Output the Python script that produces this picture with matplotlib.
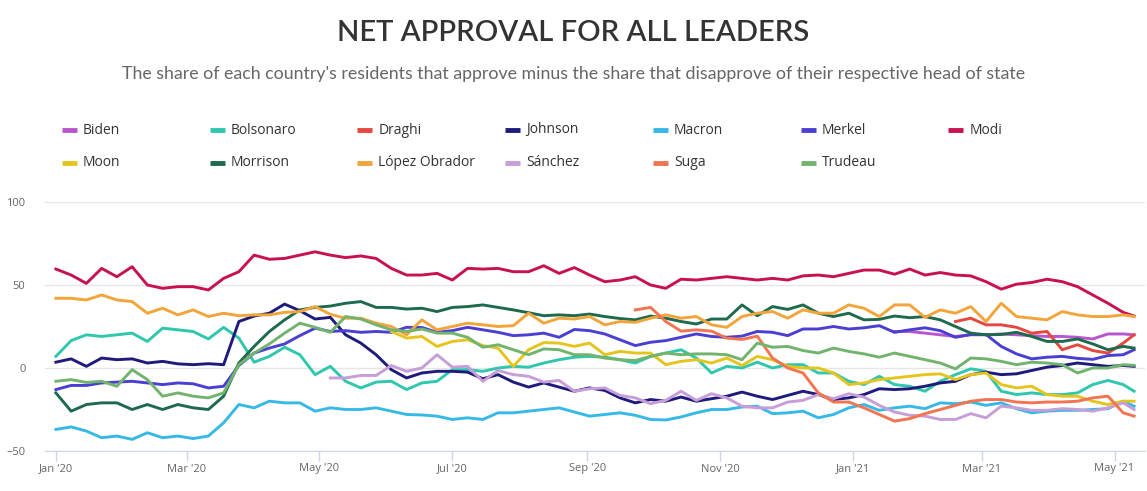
import numpy as np
import pandas as pd
import matplotlib
matplotlib.use("Agg")
import matplotlib.pyplot as plt
from matplotlib.lines import Line2D

# weekly sample dates, last point is the final day shown
dates = list(pd.date_range("2020-01-01", periods=71, freq="7D")) + [pd.Timestamp("2021-05-10")]

leaders = ["Biden", "Bolsonaro", "Draghi", "Johnson", "Macron", "Merkel", "Modi",
           "Moon", "Morrison", "López Obrador", "Sánchez", "Suga", "Trudeau"]

colors = ["#b956cf", "#2fc7ad", "#e5483f", "#1f1b7c", "#37b9e8", "#4a3fd2", "#c8124f",
          "#e6c41e", "#1e6a4c", "#f2a53a", "#c79ed8", "#f27450", "#72b46e"]

# first week index each series has data for
start_idx = {"Biden": 55, "Draghi": 59, "Moon": 22, "Sánchez": 18, "Suga": 38}

biden = [22, 22, 21, 20, 19, 20, 20, 20.5, 20, 19.5, 19, 19, 18.5, 17.5, 20.5, 20.5, 20]

bolsonaro = [7, 16.5, 20, 19, 20, 21, 16, 24, 23, 22, 17.5, 24.5, 18, 3.5, 7, 12.5, 8, -4, 1, -8,
             -12, -8.5, -8, -13, -9, -8, -1, -1, -2, 0, 1, 0.5, 3, 5, 6.5, 7, 6.5, 5, 3, 7,
             9, 11, 6, -3, 1, 0, 3.5, 0, 2, 2, -3, -3, -8, -10, -5, -10, -11, -14, -8, -4,
             -0.5, -2, -14, -16, -15, -16, -16, -15, -10, -7.5, -10, -14]

draghi = [28, 30, 26, 26, 24.5, 21, 22, 11, 14, 10.5, 9, 15, 20]

johnson = [3.5, 5.5, 1, 6, 5, 5.5, 3, 4, 2.5, 2, 2.6, 2, 28, 31.3, 33, 38.5, 34.5, 29.5, 30.5, 20,
           15, 8, -1, -6, -3, -2, -2, -2.5, -6.5, -4, -8.5, -11.5, -9, -11.5, -14, -12, -13.5, -18, -21, -19,
           -20, -17.5, -20, -18.5, -17, -14.5, -17, -19, -16.5, -14, -16, -19, -18, -16, -12.5, -13, -12.5, -11, -9, -8,
           -4, -2.5, -4, -3.5, -1.5, 0.5, 1.5, 3, 2, 1, 1.5, 1]

macron = [-37, -35.5, -38, -42, -41, -43, -39, -42, -41, -42.5, -41, -33, -22, -24, -20, -21, -21, -26, -24, -25,
          -25, -24, -26, -28, -28.3, -29, -31, -30, -31, -27, -27, -26, -25, -24, -26.5, -29, -28, -27, -28.5, -31,
          -31.3, -29.5, -27, -25, -25, -23.5, -23, -27.5, -27, -26, -30, -28, -24, -22, -25.5, -24, -23, -24.5, -21, -21.5,
          -20.5, -22.5, -21, -24.5, -27, -26, -25.5, -25.5, -25, -24.5, -20, -23]

merkel = [-13, -10.5, -10.5, -9, -8.5, -8, -9, -10, -9, -9.5, -12, -11, 1.5, 9, 12, 14.5, 19.5, 24, 22, 22.5,
          21.5, 22, 21.5, 24.5, 24.4, 21.5, 22.5, 24.5, 23, 21.5, 19.5, 20, 21, 18.5, 23.2, 22.5, 20.5, 17, 13.5, 15.5,
          16.5, 18.5, 20.5, 19, 18.5, 19.2, 22, 21.5, 19.5, 23.5, 23.5, 25, 23.5, 24.2, 25.5, 21.5, 23, 24.2, 22.5, 18.5,
          20.2, 20.2, 13, 8.5, 5.5, 6.5, 7, 5.8, 5.2, 7.5, 8, 11]

modi = [59.6, 56, 51, 60, 55, 61, 50, 48, 49, 49, 47, 54, 58, 68, 65.5, 66, 68, 70, 68, 66.5,
        67.5, 66, 60, 56, 56, 57, 53, 60, 59.6, 60, 58, 58, 61.6, 57, 60.5, 56, 52, 53, 55, 50,
        48, 53.5, 53, 54, 55, 54, 53, 54, 53, 55.5, 56, 55, 57, 59, 59, 56.5, 59.6, 56, 57.5, 56,
        55.5, 52, 47.5, 50.5, 51.5, 53.5, 52, 49, 44, 39, 33.5, 31.3]

moon = [22, 18, 19, 13, 16, 17, 13.5, 12, 1, 11, 15.3, 15, 13, 15, 8, 10, 9, 9, 2, 4,
        5, 3, 6, 1.5, 7, 5, 1, 0, 0, -3, -10, -9, -7, -6, -5, -4, -3.5, -7, -4, -3,
        -10, -12, -11, -16, -17, -17, -20, -22, -20, -20]

morrison = [-15, -26, -22, -21, -21, -25, -22, -25, -22, -24, -25, -17, 3, 13, 22, 29, 35, 36.5, 37.3, 39,
            40, 36.5, 36.5, 35.5, 36, 34, 36.5, 37, 38, 36.5, 35, 33.3, 31.5, 32, 31.5, 32.5, 31, 29.8, 29, 31.3,
            30, 28, 26.5, 29.5, 29.5, 38, 31.5, 37, 35.3, 38, 33, 31, 33, 29, 29.3, 31.3, 30.3, 31, 29, 25,
            21, 20, 20.2, 21.5, 19, 16, 16, 17.5, 14.5, 11, 13, 12]

lopez = [42, 42, 41, 44, 41, 40, 33, 36, 32, 35, 31, 33, 31.5, 32, 32, 33.5, 34, 37, 32.3, 30,
         30, 27, 25, 20, 29, 23, 25, 27, 26, 25, 25.5, 33, 27, 30, 29.5, 31, 26, 28, 27.5, 30,
         32, 30, 31, 26, 24.5, 31, 33, 34, 30, 35, 33, 33, 38, 36, 31, 38, 38, 30.5, 35, 33,
         37, 28, 39, 31, 30, 29, 34, 32, 31, 31, 32, 31]

sanchez = [-6, -6, -4.5, -4.5, 1.5, -2, 0, 8, 0.5, 1, -8, -1.5, -4, -5, -8.5, -7.5, -14, -12.5, -12, -16.5,
           -18, -21.5, -19.5, -14, -19.5, -15.5, -18, -23, -24, -24, -20.5, -19.5, -16, -18.5, -15.5, -17.5, -22.5, -26.5, -28.5, -29,
           -31, -31, -27.5, -30, -23, -24, -25.5, -25.5, -24.5, -25, -26, -24, -21, -25]

suga = [35, 36.5, 28, 22.2, 23, 22.2, 18, 17.2, 19.2, 6, 0, -3, -15, -20.5, -20.5, -24, -28, -32, -30.5, -27.5,
        -25, -22.5, -20, -19, -19, -20.5, -21, -20.5, -20.5, -20, -18, -17, -27, -29]

trudeau = [-8, -7, -8.7, -8, -11, -1, -7, -17, -15, -17, -18, -15, 2, 9, 14.5, 21, 27, 24.5, 21.5, 31,
           29.5, 26, 23, 22, 23.5, 21, 21, 18.5, 12.5, 14, 11, 8, 11.5, 11, 8, 8, 6, 5, 4.5, 7,
           9, 8, 8.5, 8.5, 8, 5, 15, 12.5, 13, 10.5, 9, 12, 10, 8.5, 6.5, 9, 7, 5, 3, -0.5,
           6, 5.5, 4, 2, 3.5, 3, 2, -3, 0, 0, 2, 1.6]

series = [biden, bolsonaro, draghi, johnson, macron, merkel, modi,
          moon, morrison, lopez, sanchez, suga, trudeau]

y_ticks = [-50, 0, 50, 100]
x_ticks = pd.date_range("2020-01-01", "2021-05-01", freq="2MS")

W, H = 1147, 491
fig = plt.figure(figsize=(W / 100, H / 100), dpi=100)
ax = fig.add_axes([45 / W, 1 - 451 / H, 1100 / W, 249 / H])

for name, vals, col in zip(leaders, series, colors):
    s = start_idx.get(name, 0)
    ax.plot(dates[s:s + len(vals)], vals, color=col, lw=2.1, solid_joinstyle="round")

ax.set_ylim(-50, 100)
ax.set_xlim(pd.Timestamp("2019-12-27"), pd.Timestamp("2021-05-15"))
ax.set_yticks(y_ticks)
ax.set_xticks(x_ticks)
ax.set_xticklabels([d.strftime("%b '%y") for d in x_ticks])
ax.yaxis.grid(True, color="#e6e6e6", lw=1)
ax.set_axisbelow(True)
for sp in ["left", "right", "top"]:
    ax.spines[sp].set_visible(False)
ax.spines["bottom"].set_color("#ccd6eb")
ax.tick_params(axis="y", length=0, pad=14, labelsize=8, labelcolor="#666666")
ax.tick_params(axis="x", length=7, width=1, color="#ccd6eb", pad=2, labelsize=8, labelcolor="#666666")
for lab in ax.get_xticklabels() + ax.get_yticklabels():
    lab.set_family("Open Sans")

fig.text(0.5, 1 - 33 / H, "NET APPROVAL FOR ALL LEADERS", ha="center", va="center",
         fontsize=21, family="Lato", weight=600, color="#333333")
fig.text(0.5, 1 - 74 / H, "The share of each country's residents that approve minus the share that disapprove of their respective head of state",
         ha="center", va="center", fontsize=12.8, family="Lato", color="#666666")

# legend laid out as a 7-column grid
for i, (name, col) in enumerate(zip(leaders, colors)):
    x0 = 62 + (i % 7) * 147.7
    y0 = 130 + (i // 7) * 33
    fig.lines.append(Line2D([x0 / W, (x0 + 15) / W], [1 - y0 / H, 1 - y0 / H],
                            transform=fig.transFigure, color=col, lw=3.5, solid_capstyle="butt"))
    fig.text((x0 + 21) / W, 1 - y0 / H, name, ha="left", va="center",
             fontsize=10, family="Open Sans", color="#333333")

fig.savefig("out.png", dpi=100, facecolor="white")
